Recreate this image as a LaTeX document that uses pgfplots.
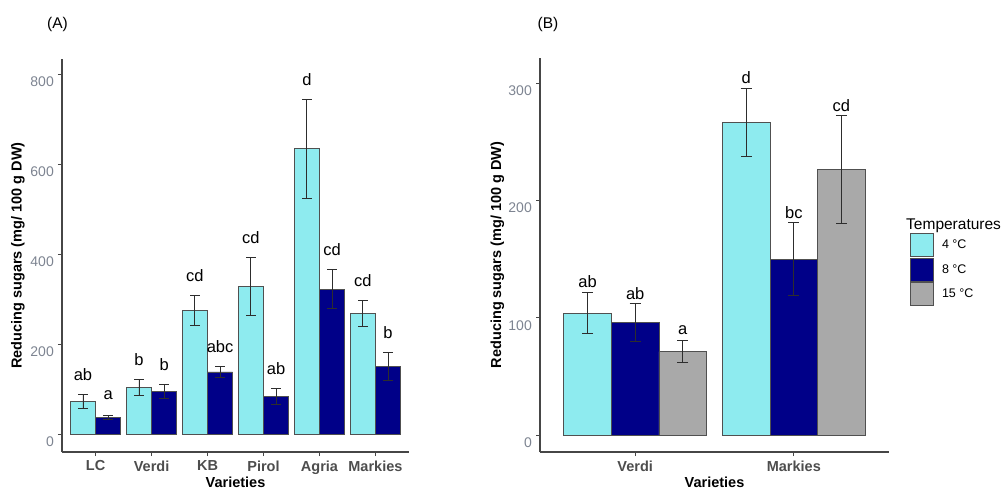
\documentclass[border=0pt]{standalone}
\usepackage{fontspec}
\setmainfont{Liberation Sans}
\usepackage{pgfplots}
\usepackage{pgfplotstable}
\pgfplotsset{compat=1.18}

\definecolor{cfour}{RGB}{142,235,239}
\definecolor{ceight}{RGB}{0,0,136}
\definecolor{cfifteen}{RGB}{169,169,169}
\definecolor{outl}{RGB}{80,80,80}
\definecolor{axcol}{RGB}{70,70,70}
\definecolor{ytickcol}{RGB}{125,132,145}
\definecolor{xtickcol}{RGB}{77,77,77}
\definecolor{ebcol}{RGB}{45,45,45}

\pgfplotstableread{
x m4 e4 l4 m8 e8 l8
0 72 15 ab 37 4 a
1 103 18 b 94 16 b
2 274 33 cd 138 12 abc
3 328 65 cd 83 18 ab
4 634 110 d 322 43 cd
5 267 29 cd 150 31 b
}\tabA

\pgfplotstableread{
x m4 e4 l4 m8 e8 l8 m15 e15 l15
0 104 17.5 ab 96 16 ab 71 9.4 a
1 266.5 29 d 150 31 bc 226 46 cd
}\tabB

\pgfplotsset{
  panel/.style={
    scale only axis, anchor=south west, clip=false,
    axis x line*=bottom, axis y line*=left,
    axis line style={axcol, line width=1.2pt},
    tick align=outside, major tick length=4pt,
    tick style={axcol, line width=0.9pt},
    /pgf/number format/assume math mode=true,
    yticklabel style={font=\fontsize{14}{14}\selectfont, text=ytickcol, anchor=east, inner sep=0pt, xshift=-4pt, yshift=-7.7pt},
    xticklabel style={font=\fontsize{14.5}{14.5}\selectfont\bfseries, text=xtickcol, anchor=north, inner sep=0pt, yshift=-4.5pt},
    xlabel={Varieties},
    ylabel={Reducing sugars (mg/ 100 g DW)},
    label style={font=\fontsize{14.5}{14.5}\selectfont\bfseries, text=black, inner sep=0pt},
    xlabel style={at={(axis description cs:0.5,-0.078)}, anchor=center},
    xmin=-0.6,
  },
  bars/.style={ybar, bar shift=0pt, draw=outl, line width=0.8pt,
    error bars/y dir=both, error bars/y explicit,
    error bars/error mark=-,
    error bars/error bar style={ebcol, line width=0.9pt},
    error bars/error mark options={rotate=90, ebcol, line width=0.9pt, mark size=#1}},
  lets/.style={draw=none, forget plot, nodes near coords, point meta=explicit symbolic,
    every node near coord/.style={anchor=center, inner sep=0pt, yshift=#1, text=black, font=\fontsize{16.5}{16.5}\selectfont}},
  keybox/.style={legend image code/.code={\draw[##1, draw=outl, line width=0.8pt] (0pt,-11.6pt) rectangle (23pt,11.6pt);}},
}

\begin{document}
\begin{tikzpicture}
\path[use as bounding box] (0pt,0pt) rectangle (1008pt,490pt);

\node[anchor=center, inner sep=0pt, font=\fontsize{15.5}{15.5}\selectfont] at (57.5pt,466pt) {(A)};
\node[anchor=center, inner sep=0pt, font=\fontsize{15.5}{15.5}\selectfont] at (548pt,466pt) {(B)};

\begin{axis}[panel, at={(62pt,38pt)}, width=347pt, height=393pt,
  xmax=5.6, ymin=-40, ymax=833.3,
  xtick={0,...,5}, xticklabels={LC,Verdi,KB,Pirol,Agria,Markies},
  ytick={0,200,400,600,800},
  ylabel style={at={(axis description cs:-0.127,0.5)}, anchor=center},
]
\addplot[bars=4.8pt, fill=cfour, bar width=0.45] table[x expr=\thisrow{x}-0.225, y=m4, y error=e4] {\tabA};
\addplot[bars=4.8pt, fill=ceight, bar width=0.45] table[x expr=\thisrow{x}+0.225, y=m8, y error=e8] {\tabA};
\addplot[lets=20pt] table[x expr=\thisrow{x}-0.225, y expr=\thisrow{m4}+\thisrow{e4}, meta=l4] {\tabA};
\addplot[lets=20pt] table[x expr=\thisrow{x}+0.225, y expr=\thisrow{m8}+\thisrow{e8}, meta=l8] {\tabA};
\end{axis}

\begin{axis}[panel, at={(540pt,38pt)}, width=349pt, height=394pt,
  xmax=1.6, ymin=-14.5, ymax=321.4,
  xtick={0,1}, xticklabels={Verdi,Markies},
  ytick={0,100,200,300},
  ylabel style={at={(axis description cs:-0.122,0.5)}, anchor=center},
  legend style={at={(axis description cs:1.0602,0.5558)}, anchor=north west, draw=none, fill=none,
    inner sep=0pt, row sep=0.4pt, column sep=8pt, font=\fontsize{12.5}{12.5}\selectfont,
    nodes={inner sep=0pt, text=black}},
  legend cell align=left,
]
\addplot[bars=5.5pt, fill=cfour, bar width=0.3, keybox] table[x expr=\thisrow{x}-0.3, y=m4, y error=e4] {\tabB};
\addlegendentry{4 °C}
\addplot[bars=5.5pt, fill=ceight, bar width=0.3, keybox] table[x expr=\thisrow{x}, y=m8, y error=e8] {\tabB};
\addlegendentry{8 °C}
\addplot[bars=5.5pt, fill=cfifteen, bar width=0.3, keybox] table[x expr=\thisrow{x}+0.3, y=m15, y error=e15] {\tabB};
\addlegendentry{15 °C}
\addplot[lets=10.5pt] table[x expr=\thisrow{x}-0.3, y expr=\thisrow{m4}+\thisrow{e4}, meta=l4] {\tabB};
\addplot[lets=10.5pt] table[x expr=\thisrow{x}, y expr=\thisrow{m8}+\thisrow{e8}, meta=l8] {\tabB};
\addplot[lets=10.5pt] table[x expr=\thisrow{x}+0.3, y expr=\thisrow{m15}+\thisrow{e15}, meta=l15] {\tabB};
\end{axis}

\node[anchor=base west, inner sep=0pt, font=\fontsize{15.5}{15.5}\selectfont] at (906pt,260.7pt) {Temperatures};
\end{tikzpicture}
\end{document}
